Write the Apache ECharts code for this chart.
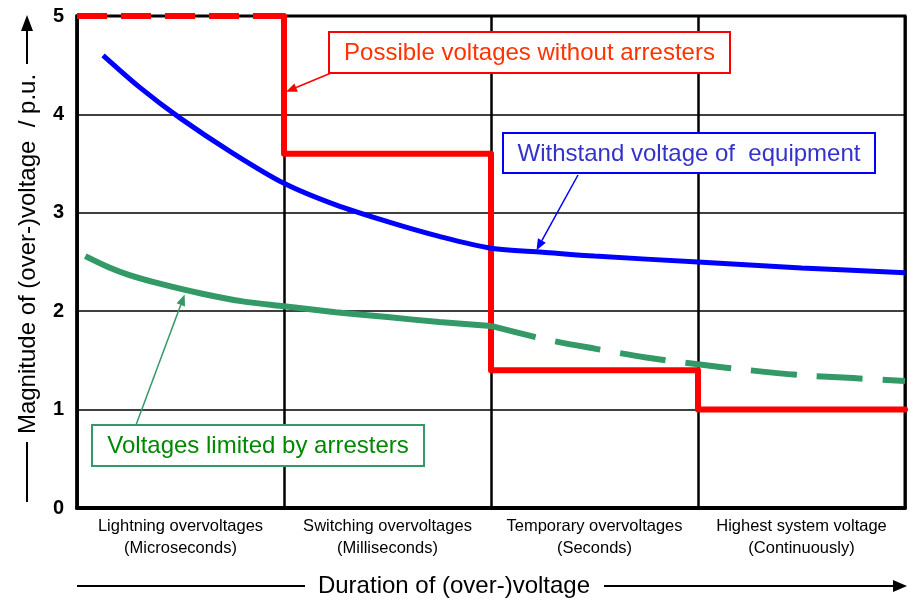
<!DOCTYPE html>
<html>
<head>
<meta charset="utf-8">
<script src="https://cdn.jsdelivr.net/npm/echarts@6/dist/echarts.min.js"></script>
<style>
html,body{margin:0;padding:0;background:#fff;}
#chart{width:908px;height:601px;}
</style>
</head>
<body>
<div id="chart"></div>
<script>
// ---- data ----
const categories = [
  'Lightning overvoltages\n(Microseconds)',
  'Switching overvoltages\n(Milliseconds)',
  'Temporary overvoltages\n(Seconds)',
  'Highest system voltage\n(Continuously)'
];
const yTickValues = [0, 1, 2, 3, 4, 5];
const redDashed = [[0, 5], [1, 5]];
const redSolid = [[1, 5], [1, 3.6], [2, 3.6], [2, 1.4], [3, 1.4], [3, 1.0], [4, 1.0]];
const withstand = [[0.126, 4.60], [0.3, 4.28], [0.5, 3.96], [0.75, 3.61], [1.0, 3.30], [1.25, 3.08], [1.5, 2.91], [1.75, 2.76], [2.0, 2.64], [2.25, 2.60], [2.5, 2.56], [3.0, 2.50], [3.5, 2.44], [4.0, 2.39]];
const limitedSolid = [[0.04, 2.56], [0.15, 2.45], [0.25, 2.37], [0.4, 2.28], [0.6, 2.18], [0.8, 2.10], [1.0, 2.05], [1.25, 1.99], [1.5, 1.94], [1.75, 1.89], [2.0, 1.85]];
const limitedDashed = [[2.0, 1.85], [2.25, 1.72], [2.5, 1.62], [2.75, 1.53], [3.0, 1.46], [3.25, 1.40], [3.5, 1.35], [3.75, 1.32], [4.0, 1.29]];
const labelWithout = 'Possible voltages without arresters';
const labelWithstand = 'Withstand voltage of  equipment';
const labelLimited = 'Voltages limited by arresters';
const yName = 'Magnitude of (over-)voltage  / p.u.';
const xName = 'Duration of (over-)voltage';
// arrow targets in data coordinates
const targetWithout = [1.0, 4.23];
const targetWithstand = [2.22, 2.60];
const targetLimited = [0.52, 2.20];

const FONT = 'Arial, "Liberation Sans", sans-serif';
const chart = echarts.init(document.getElementById('chart'), null, {renderer: 'canvas'});

const option = {
  animation: false,
  backgroundColor: '#fff',
  grid: {left: 77, right: 3, top: 16, bottom: 93, show: true, borderColor: '#000', borderWidth: 3, backgroundColor: 'transparent'},
  xAxis: [
    {type: 'value', min: 0, max: 4, interval: 1,
     axisLine: {show: true, onZero: false, lineStyle: {color: '#000', width: 4}},
     axisTick: {show: false}, axisLabel: {show: false},
     splitLine: {show: true, lineStyle: {color: '#000', width: 2.5}}},
    {type: 'category', data: categories, position: 'bottom', boundaryGap: true,
     axisLine: {show: false}, axisTick: {show: false}, splitLine: {show: false},
     axisLabel: {show: true, interval: 0, color: '#000', fontSize: 16.5, fontFamily: FONT, lineHeight: 22, margin: 7}}
  ],
  yAxis: {type: 'value', min: 0, max: 5, interval: 1,
    axisLine: {show: true, onZero: false, lineStyle: {color: '#000', width: 3.5}},
    axisTick: {show: false},
    axisLabel: {color: '#000', fontSize: 20, fontWeight: 'bold', fontFamily: FONT, margin: 13,
      formatter: v => yTickValues.indexOf(v) >= 0 ? String(v) : ''},
    splitLine: {show: true, lineStyle: {color: '#000', width: 1.5}}},
  series: [
    {type: 'line', data: redDashed, showSymbol: false, clip: false, z: 3,
     lineStyle: {color: '#ff0000', width: 6, type: [30, 14], cap: 'butt'}},
    {type: 'line', data: redSolid, showSymbol: false, clip: false, z: 3,
     lineStyle: {color: '#ff0000', width: 6, join: 'round', cap: 'round'}},
    {type: 'line', data: withstand, showSymbol: false, clip: false, smooth: 0.3, z: 4,
     lineStyle: {color: '#0000ff', width: 5}},
    {type: 'line', data: limitedSolid, showSymbol: false, clip: false, smooth: 0.3, z: 5,
     lineStyle: {color: '#339966', width: 6}},
    {type: 'line', data: limitedDashed, showSymbol: false, clip: false, smooth: 0.3, z: 5,
     lineStyle: {color: '#339966', width: 6, type: [46, 20], cap: 'butt'}}
  ]
};
chart.setOption(option);

function arrow(x1, y1, x2, y2, color, width, headLen, headW) {
  const dx = x2 - x1, dy = y2 - y1, L = Math.sqrt(dx * dx + dy * dy);
  const ux = dx / L, uy = dy / L, px = -uy, py = ux;
  const bx = x2 - ux * headLen, by = y2 - uy * headLen;
  return [
    {type: 'line', z: 20, shape: {x1: x1, y1: y1, x2: bx, y2: by}, style: {stroke: color, lineWidth: width}},
    {type: 'polygon', z: 20, shape: {points: [[x2, y2], [bx + px * headW, by + py * headW], [bx - px * headW, by - py * headW]]}, style: {fill: color}}
  ];
}
function box(x, y, w, h, text, stroke, fill) {
  return [
    {type: 'rect', z: 21, shape: {x: x, y: y, width: w, height: h}, style: {fill: '#fff', stroke: stroke, lineWidth: 2}},
    {type: 'text', z: 22, style: {text: text, x: x + w / 2, y: y + h / 2 + 1, align: 'center', verticalAlign: 'middle', fill: fill, font: '24px ' + FONT}}
  ];
}
const tW = chart.convertToPixel({gridIndex: 0}, targetWithout);
const tS = chart.convertToPixel({gridIndex: 0}, targetWithstand);
const tL = chart.convertToPixel({gridIndex: 0}, targetLimited);

let g = [];
g = g.concat(arrow(331, 73, tW[0] + 2, tW[1], '#ff0000', 1.5, 11, 4.5));
g = g.concat(arrow(578, 175, tS[0], tS[1] - 2, '#0000ff', 1.5, 11, 4.5));
g = g.concat(arrow(136, 425, tL[0], tL[1] + 3, '#339966', 1.5, 11, 4.5));
g = g.concat(box(329, 32, 401, 41, labelWithout, '#ff0000', '#ff3300'));
g = g.concat(box(503, 133, 372, 40, labelWithstand, '#0000ff', '#3333cc'));
g = g.concat(box(92, 425, 332, 41, labelLimited, '#339966', '#008800'));
// y-axis name with arrow
g.push({type: 'text', z: 22, x: 28, y: 254, rotation: Math.PI / 2,
  style: {text: yName, x: 0, y: 0, align: 'center', verticalAlign: 'middle', fill: '#000', font: '24px ' + FONT}});
g.push({type: 'line', z: 20, shape: {x1: 27, y1: 442, x2: 27, y2: 502}, style: {stroke: '#000', lineWidth: 2}});
g = g.concat(arrow(27, 64, 27, 15, '#000', 2, 16, 6));
// x-axis name with arrow
g.push({type: 'text', z: 22, style: {text: xName, x: 454, y: 586, align: 'center', verticalAlign: 'middle', fill: '#000', font: '24px ' + FONT}});
g.push({type: 'line', z: 20, shape: {x1: 77, y1: 586, x2: 305, y2: 586}, style: {stroke: '#000', lineWidth: 2}});
g = g.concat(arrow(604, 586, 907, 586, '#000', 2, 14, 6));
chart.setOption({graphic: g});
</script>
</body>
</html>
